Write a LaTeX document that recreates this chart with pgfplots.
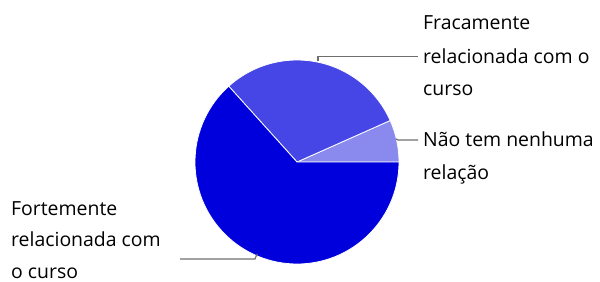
\documentclass[border=0pt]{standalone}
\usepackage{fontspec}
\setmainfont{Open Sans}
\usepackage{pgfplots}
\pgfplotsset{compat=1.18}
\definecolor{cdark}{HTML}{0000DC}
\definecolor{cmed}{HTML}{4646E6}
\definecolor{clight}{HTML}{8A8AEE}
\definecolor{cline}{HTML}{6E6E6E}
\begin{document}
\begin{tikzpicture}
% data: Nao tem nenhuma relacao = 4, Fracamente = 18, Fortemente = 38
\pgfmathsetmacro{\va}{4}
\pgfmathsetmacro{\vb}{18}
\pgfmathsetmacro{\vc}{38}
\pgfmathsetmacro{\tot}{\va+\vb+\vc}
\pgfmathsetmacro{\aa}{360*\va/\tot}
\pgfmathsetmacro{\ab}{\aa+360*\vb/\tot}
\useasboundingbox (0,0) rectangle (600bp,282bp);
\begin{axis}[x=1bp,y=1bp,xmin=0,xmax=600,ymin=0,ymax=282,scale only axis,hide axis,clip=false,at={(0,0)},anchor=south west]
\fill[clight,draw=white,line width=0.8bp] (axis cs:297,120) -- ++(0:102bp) arc[start angle=0,end angle=\aa,radius=102bp] -- cycle;
\fill[cmed,draw=white,line width=0.8bp] (axis cs:297,120) -- ++(\aa:102bp) arc[start angle=\aa,end angle=\ab,radius=102bp] -- cycle;
\fill[cdark,draw=white,line width=0.8bp] (axis cs:297,120) -- ++(\ab:102bp) arc[start angle=\ab,end angle=360,radius=102bp] -- cycle;
% leader lines
\draw[cline,line width=1.2bp] (axis cs:318,221) -- (axis cs:318,225.3) -- (axis cs:418,225.3);
\draw[cline,line width=1.2bp] (axis cs:396,143) -- (axis cs:398,142) -- (axis cs:418,142);
\draw[cline,line width=1.2bp] (axis cs:257,28) -- (axis cs:255,23) -- (axis cs:180,23);
% labels
\tikzset{lab/.style={anchor=base west,inner sep=0pt,font=\fontsize{19.5}{21}\selectfont,text=black}}
\node[lab] at (axis cs:423,252.7) {Fracamente};
\node[lab] at (axis cs:423,218.7) {relacionada com o};
\node[lab] at (axis cs:423,187) {curso};
\node[lab] at (axis cs:423,135.3) {Não tem nenhuma};
\node[lab] at (axis cs:423,102.5) {relação};
\node[lab] at (axis cs:11,67) {Fortemente};
\node[lab] at (axis cs:11,35.3) {relacionada com};
\node[lab] at (axis cs:11,4) {o curso};
\end{axis}
\end{tikzpicture}
\end{document}
